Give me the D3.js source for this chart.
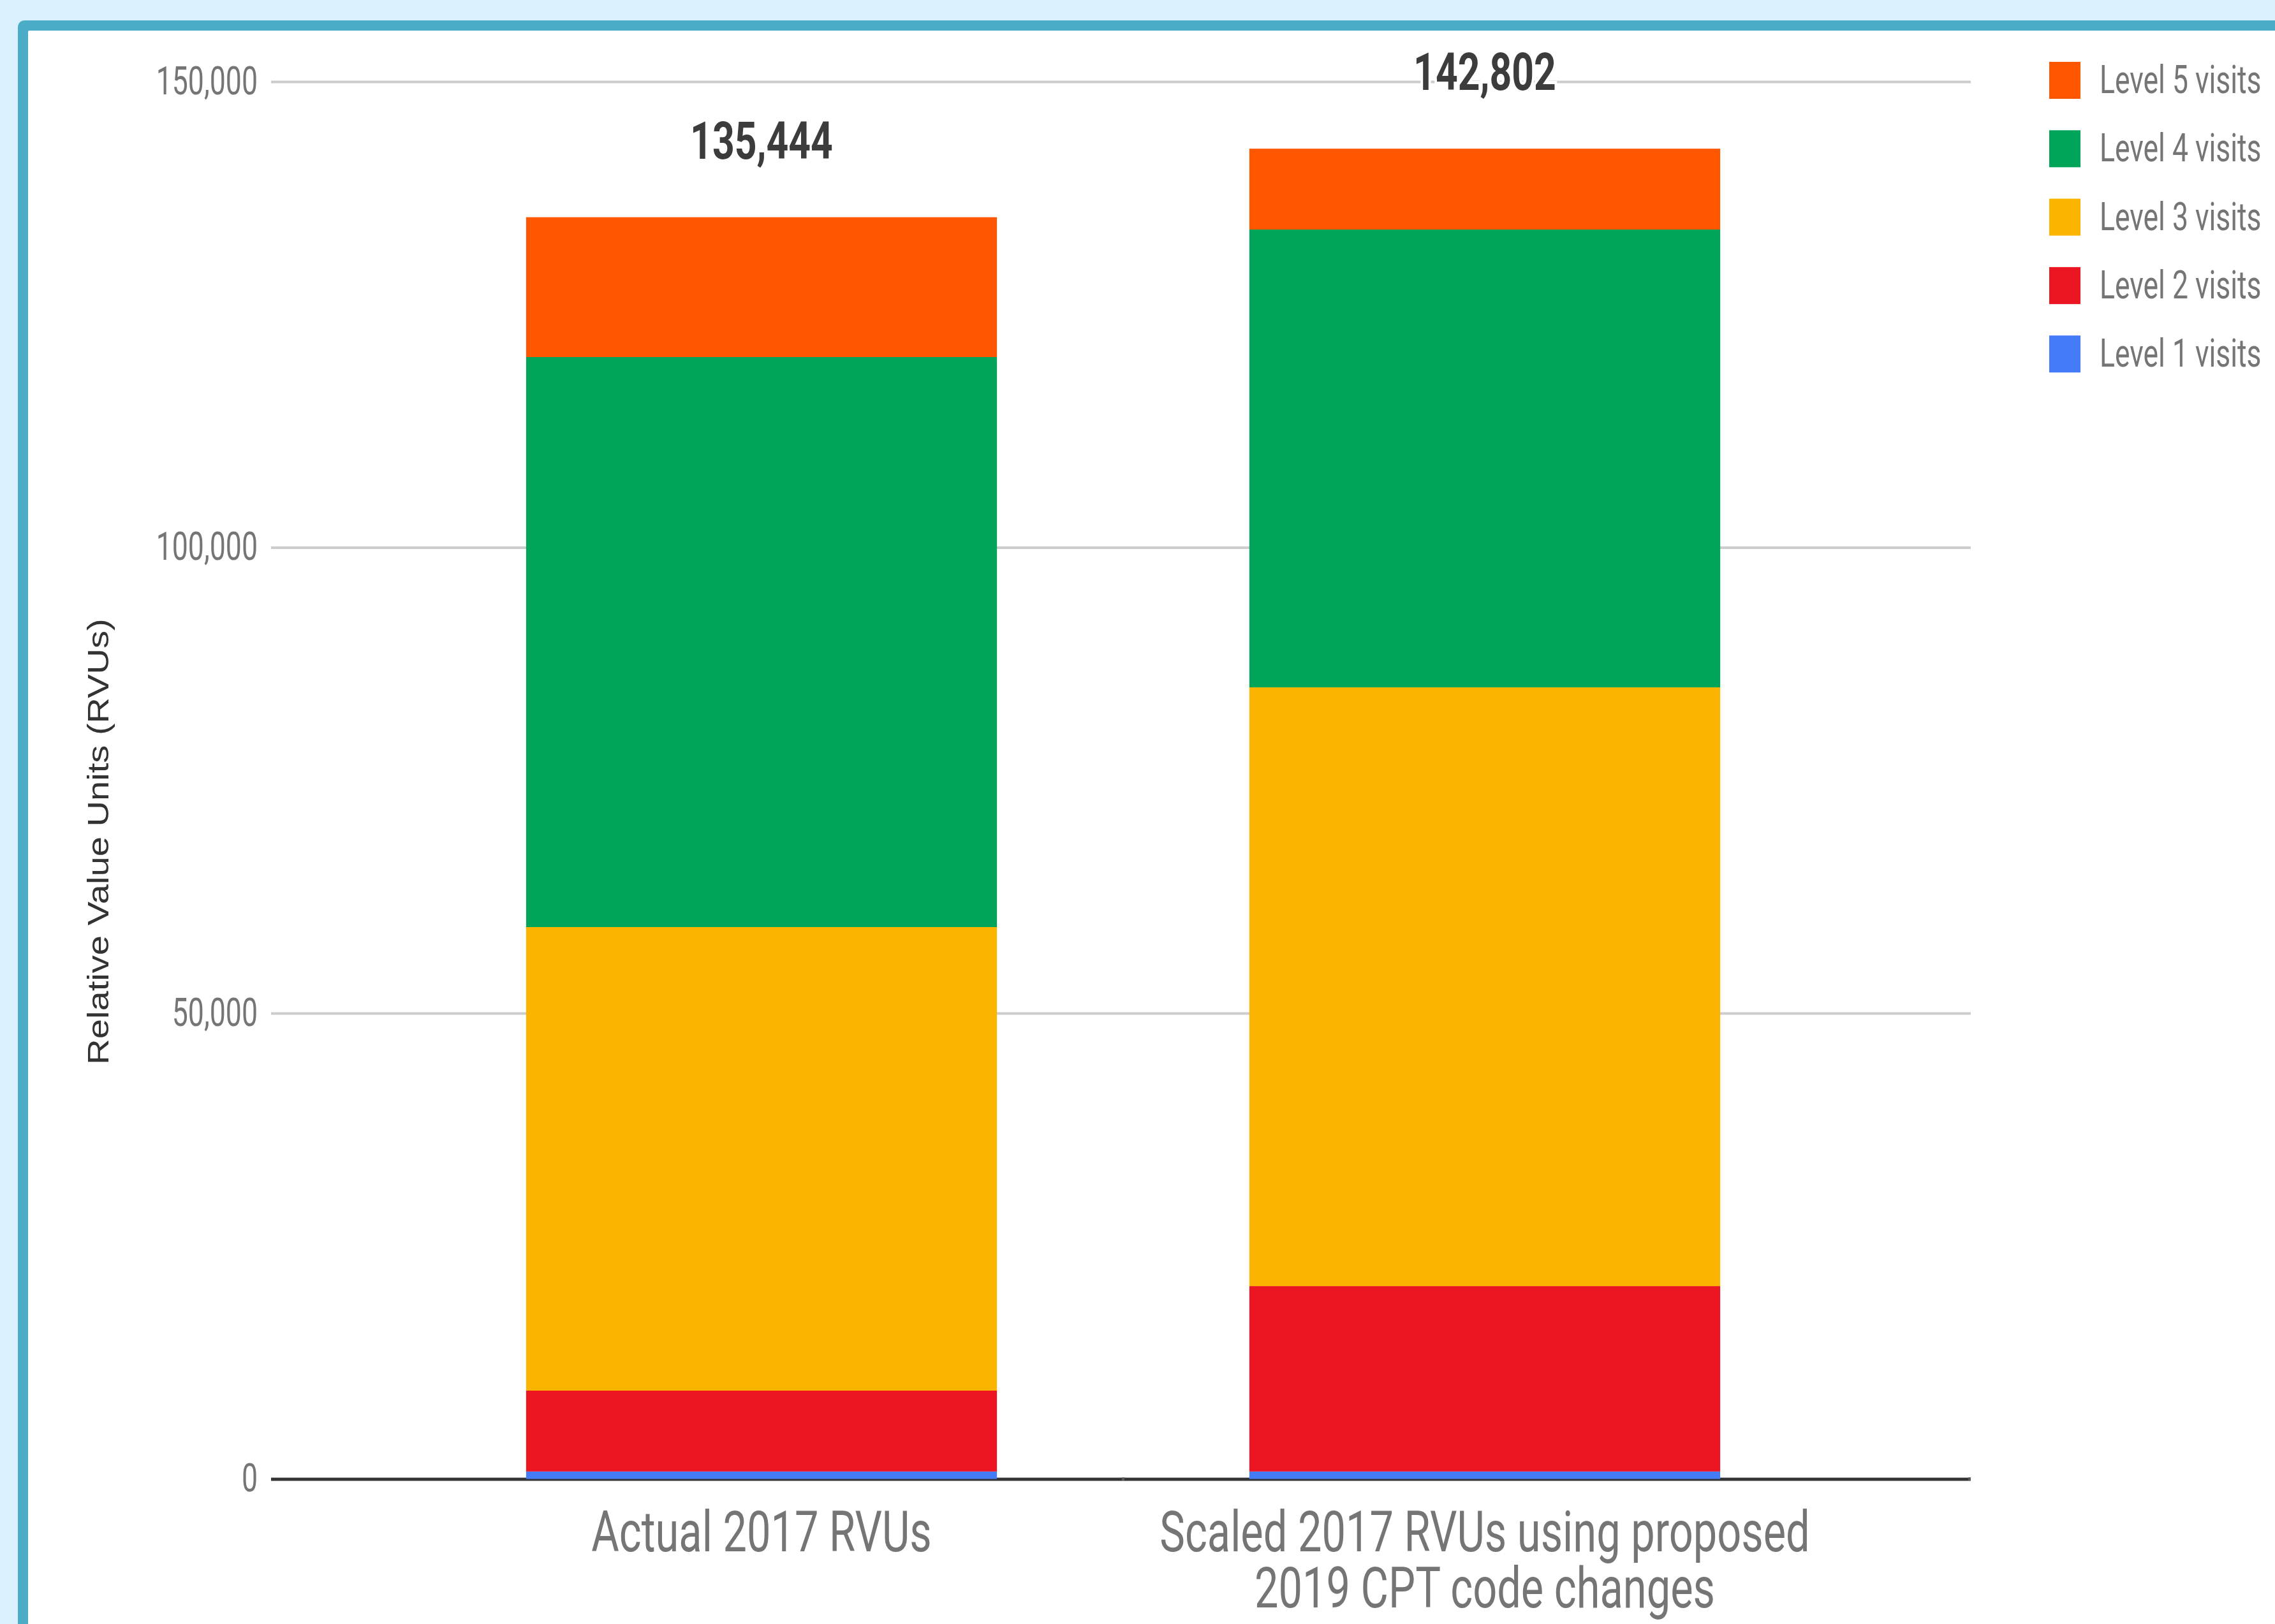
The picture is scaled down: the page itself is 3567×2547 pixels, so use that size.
<!DOCTYPE html>
<html><head><meta charset="utf-8">
<script src="https://cdn.jsdelivr.net/npm/d3@7"></script>
<style>html,body{margin:0;padding:0;background:#d9f1fc;overflow:hidden}</style>
</head><body>
<svg id="chart" width="3567" height="2547"></svg>
<script>
// ---- data ----
const categories = ["Actual 2017 RVUs", "Scaled 2017 RVUs using proposed 2019 CPT code changes"];
const categoryLines = [["Actual 2017 RVUs"], ["Scaled 2017 RVUs using proposed", "2019 CPT code changes"]];
const seriesNames = ["Level 1 visits", "Level 2 visits", "Level 3 visits", "Level 4 visits", "Level 5 visits"];
const level1 = [800, 800];
const level2 = [8680, 19900];
const level3 = [49760, 64275];
const level4 = [61190, 49145];
const level5 = [15014, 8682];
const totals = [135444, 142802];
const yTicks = [0, 50000, 100000, 150000];
const seriesColors = ["#447bf7", "#ec1622", "#fbb400", "#00a55a", "#ff5600"];

// ---- layout ----
const W = 3567, H = 2547;
const svg = d3.select("#chart");
svg.append("rect").attr("x", 0).attr("y", 0).attr("width", W).attr("height", H).attr("fill", "#d9f1fc");
svg.append("rect").attr("x", 28).attr("y", 32).attr("width", 3700).attr("height", 2700).attr("rx", 10).attr("fill", "#4aacc7");
svg.append("rect").attr("x", 44).attr("y", 48).attr("width", 3700).attr("height", 2700).attr("rx", 2).attr("fill", "#ffffff");

const gridX0 = 425, gridX1 = 3090;
const y = d3.scaleLinear().domain([0, 150000]).range([2319.5, 128]);
const x = d3.scaleBand().domain(categories).range([627, 2895]).paddingInner(0.349).paddingOuter(0.1745);

const table = categories.map((c, i) => ({
  cat: c,
  "Level 1 visits": level1[i], "Level 2 visits": level2[i], "Level 3 visits": level3[i],
  "Level 4 visits": level4[i], "Level 5 visits": level5[i], total: totals[i]
}));
const stacked = d3.stack().keys(seriesNames)(table);
const color = d3.scaleOrdinal().domain(seriesNames).range(seriesColors);

function ctext(parent, tx, ty, str, o) {
  return parent.append("text")
    .attr("transform", `translate(${tx},${ty})` + (o.rotate ? ` rotate(${o.rotate})` : "") + ` scale(${o.sx},1)`)
    .attr("text-anchor", o.anchor || "start")
    .attr("font-family", o.family || "Roboto")
    .attr("font-size", o.size)
    .attr("font-weight", o.weight || "normal")
    .attr("fill", o.fill)
    .text(str);
}

// ---- y axis / gridlines ----
const SX_TICK = 0.72;
const yAxis = d3.axisLeft(y).tickValues(yTicks).tickSize(-(gridX1 - gridX0)).tickPadding(0).tickFormat(d3.format(","));
const gAxis = svg.append("g").attr("transform", `translate(${gridX0},0)`).call(yAxis);
gAxis.select(".domain").remove();
gAxis.selectAll(".tick line").attr("stroke", d => d === 0 ? "#333333" : "#cccccc").attr("stroke-width", d => d === 0 ? 5 : 4);
gAxis.selectAll(".tick text")
  .attr("x", null).attr("dy", null)
  .attr("font-family", "Roboto").attr("font-size", 62).attr("fill", "#757575")
  .attr("text-anchor", "end")
  .attr("transform", `translate(-21,19) scale(${SX_TICK},1)`);

// category separator ticks on the baseline
const sepX = [(x(categories[0]) + x.bandwidth() + x(categories[1])) / 2, gridX1 - 2];
svg.selectAll("line.sep").data(sepX).enter().append("line")
  .attr("x1", d => d).attr("x2", d => d).attr("y1", y(0) - 2.5).attr("y2", y(0) + 2.5)
  .attr("stroke", "#5a5a5a").attr("stroke-width", 4);

// ---- bars ----
svg.append("g").selectAll("g").data(stacked).enter().append("g")
  .attr("fill", d => color(d.key))
  .selectAll("rect").data(d => d).enter().append("rect")
  .attr("x", d => x(d.data.cat))
  .attr("width", x.bandwidth())
  .attr("y", d => y(d[1]))
  .attr("height", d => y(d[0]) - y(d[1]));

// ---- total labels ----
table.forEach(d => {
  ctext(svg, x(d.cat) + x.bandwidth() / 2, y(d.total) - 92, d3.format(",")(d.total),
    { sx: 0.74, anchor: "middle", size: 82, weight: "bold", fill: "#3c3c3c" })
    .attr("stroke", "#ffffff").attr("stroke-width", 10).attr("paint-order", "stroke");
});

// ---- category labels (one text per category, wrapped with tspans) ----
categories.forEach((c, i) => {
  const t = ctext(svg, x(c) + x.bandwidth() / 2, 2433, "",
    { sx: 0.75, anchor: "middle", size: 89, fill: "#757575" });
  categoryLines[i].forEach((line, j) => {
    t.append("tspan").attr("x", 0).attr("dy", j === 0 ? 0 : 88).text(line);
  });
});

// ---- y title ----
ctext(svg, 170, 1320, "Relative Value Units (RVUs)",
  { rotate: -90, sx: 1.22, anchor: "middle", size: 46, family: "Liberation Sans, Arial, sans-serif", fill: "#333333" });

// ---- legend ----
const legendItems = seriesNames.slice().reverse();
const lg = svg.append("g");
legendItems.forEach((name, i) => {
  const top = 97 + i * 107.3;
  lg.append("rect").attr("x", 3213).attr("y", top).attr("width", 49).attr("height", 58).attr("fill", color(name));
  ctext(lg, 3292, top + 49, name, { sx: 0.717, size: 62, fill: "#757575" });
});
</script>
</body></html>
